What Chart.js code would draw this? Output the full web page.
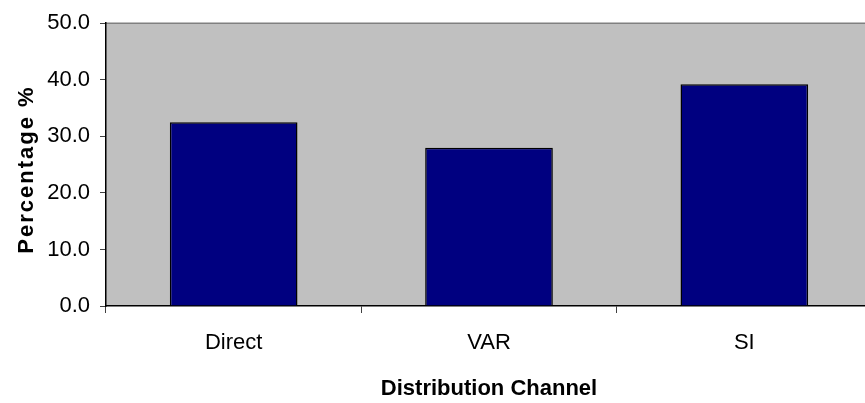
<!DOCTYPE html>
<html>
<head>
<meta charset="utf-8">
<title>Distribution Channel</title>
<script src="https://cdn.jsdelivr.net/npm/chart.js@4.4.1/dist/chart.umd.min.js"></script>
<style>
    html, body { margin: 0; padding: 0; background: #fff; overflow: hidden; }
    canvas { display: block; }
</style>
</head>
<body>
<canvas id="channelChart" width="877" height="403"></canvas>
<script>
// values
const categories = ['Direct', 'VAR', 'SI'];
const percentages = [32.5, 28.0, 39.2];
const yTickValues = [0, 10, 20, 30, 40, 50];
const xAxisTitle = 'Distribution Channel';
const yAxisTitle = 'Percentage %';

const tickFont = { family: "'Liberation Sans Narrow', 'Liberation Sans', Arial, sans-serif", size: 22 };

// grey plot area with a thin top border, like the old Excel chart
const plotBackground = {
    id: 'plotBackground',
    beforeDraw(chart) {
        const { ctx, chartArea: a } = chart;
        ctx.save();
        ctx.fillStyle = '#c0c0c0';
        ctx.fillRect(a.left, a.top, a.right - a.left, a.bottom - a.top);
        ctx.strokeStyle = '#808080';
        ctx.lineWidth = 1.5;
        ctx.beginPath();
        ctx.moveTo(a.left, a.top);
        ctx.lineTo(a.right, a.top);
        ctx.stroke();
        ctx.restore();
    }
};

// y title is letter-spaced in the reference, so it is drawn here
const yTitle = {
    id: 'yTitle',
    afterDraw(chart) {
        const { ctx, chartArea: a } = chart;
        ctx.save();
        ctx.translate(27, (a.top + a.bottom) / 2 + 5);
        ctx.rotate(-Math.PI / 2);
        ctx.font = "bold 22px 'Liberation Sans', Arial, sans-serif";
        ctx.letterSpacing = '2px';
        ctx.fillStyle = '#000';
        ctx.textAlign = 'center';
        ctx.textBaseline = 'middle';
        ctx.fillText(yAxisTitle, 0, 0);
        ctx.restore();
    }
};

const ctx = document.getElementById('channelChart').getContext('2d');

new Chart(ctx, {
    type: 'bar',
    data: {
        labels: categories,
        datasets: [{
            data: percentages,
            backgroundColor: '#000080',
            borderColor: '#000000',
            borderWidth: 1.5,
            barPercentage: 0.5,
            categoryPercentage: 1.0
        }]
    },
    options: {
        responsive: false,
        animation: false,
        layout: { padding: { top: 20, right: 5, bottom: 0, left: 0 } },
        plugins: {
            legend: { display: false },
            tooltip: { enabled: false }
        },
        scales: {
            x: {
                offset: true,
                grid: { offset: true, drawOnChartArea: false, drawTicks: true, tickLength: 7, color: '#404040' },
                border: { display: true, color: '#000', width: 1.5 },
                ticks: { color: '#000', font: tickFont, padding: 17, maxRotation: 0 },
                title: {
                    display: true,
                    text: xAxisTitle,
                    color: '#000',
                    font: { family: "'Liberation Sans', Arial, sans-serif", size: 22, weight: 'bold' },
                    padding: { top: 0, bottom: 1 }
                },
                afterFit(scale) { scale.height = 97; }
            },
            y: {
                min: 0,
                max: 50,
                afterBuildTicks(scale) {
                    scale.ticks = yTickValues.map(v => ({ value: v }));
                },
                grid: { drawOnChartArea: false, drawTicks: true, tickLength: 6, color: '#404040' },
                border: { display: true, color: '#000', width: 1.5 },
                ticks: {
                    color: '#000',
                    font: tickFont,
                    padding: 10,
                    callback: v => Number(v).toFixed(1)
                },
                afterFit(scale) { scale.width = 106; }
            }
        }
    },
    plugins: [plotBackground, yTitle]
});
</script>
</body>
</html>
